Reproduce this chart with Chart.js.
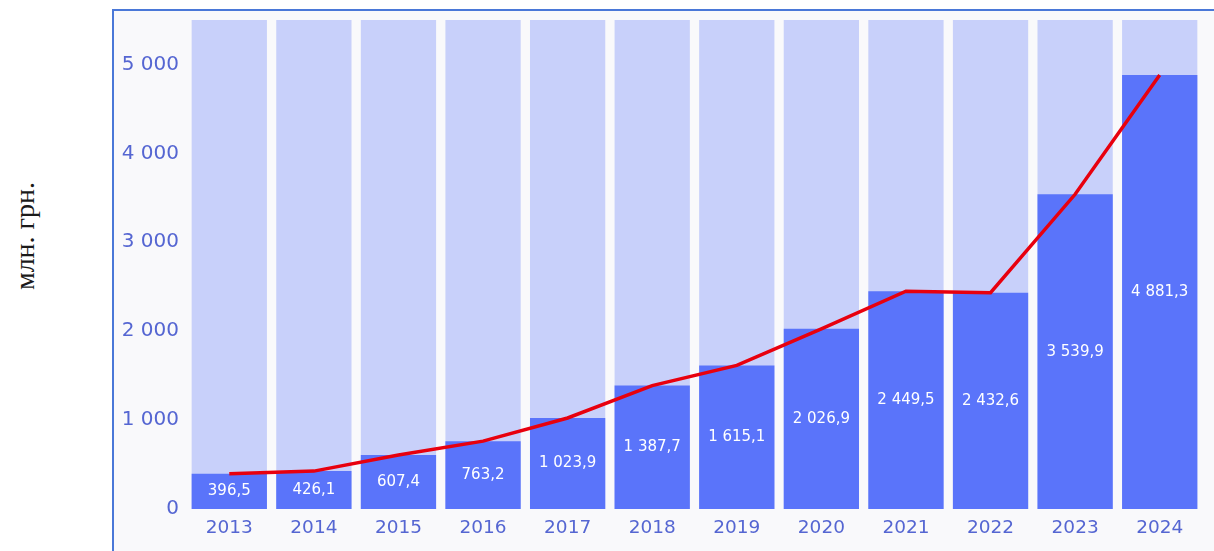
<!DOCTYPE html>
<html>
<head>
<meta charset="utf-8">
<script src="https://cdn.jsdelivr.net/npm/chart.js@4"></script>
<style>
  html, body { margin: 0; padding: 0; background: #fff; }
  #page { position: relative; width: 1214px; height: 551px; overflow: hidden; }
  #unit {
    position: absolute; left: 25px; top: 236px;
    transform: translate(-50%, -50%) rotate(-90deg);
    font: 28px "Liberation Serif", serif; color: #1a1a1a; white-space: nowrap;
  }
  #frame {
    position: absolute; left: 112px; top: 9px; width: 1200px; height: 600px;
    border-left: 2px solid #4a78d8; border-top: 2px solid #4a78d8;
    background: #f9f9fb;
  }
  #wrap { position: absolute; left: 0; top: 0; width: 1214px; height: 551px; }
</style>
</head>
<body>
<div id="page">
  <div id="unit">млн. грн.</div>
  <div id="frame"></div>
  <div id="wrap"><canvas id="chart"></canvas></div>
</div>
<script>
// Доходи по роках, млн. грн.
const years = ['2013', '2014', '2015', '2016', '2017', '2018', '2019', '2020', '2021', '2022', '2023', '2024'];
const values = [396.5, 426.1, 607.4, 763.2, 1023.9, 1387.7, 1615.1, 2026.9, 2449.5, 2432.6, 3539.9, 4881.3];
const yTicks = [0, 1000, 2000, 3000, 4000, 5000];
const scaleMax = 5500;
const backdrop = years.map(() => scaleMax);

// "1 023,9" style: space thousands, comma decimal
function fmt(v, decimals) {
  const s = v.toFixed(decimals);
  const [int, dec] = s.split('.');
  const grouped = int.replace(/\B(?=(\d{3})+(?!\d))/g, ' ');
  return dec ? grouped + ',' + dec : grouped;
}

// white value labels in the middle of each dark bar
const barLabels = {
  id: 'barLabels',
  afterDatasetsDraw(chart) {
    const meta = chart.getDatasetMeta(1);
    const ctx = chart.ctx;
    ctx.save();
    ctx.font = '15px "DejaVu Sans", Verdana, sans-serif';
    ctx.fillStyle = '#ffffff';
    ctx.textAlign = 'center';
    ctx.textBaseline = 'middle';
    meta.data.forEach((bar, i) => {
      const p = bar.getProps(['x', 'y', 'base'], true);
      ctx.fillText(fmt(values[i], 1), p.x, (p.y + p.base) / 2);
    });
    ctx.restore();
  }
};

const ctx = document.getElementById('chart').getContext('2d');
new Chart(ctx, {
  data: {
    labels: years,
    datasets: [
      {
        type: 'bar',
        data: backdrop,
        backgroundColor: '#c8d0fa',
        grouped: false,
        barPercentage: 0.89,
        categoryPercentage: 1,
        order: 3,
      },
      {
        type: 'bar',
        data: values,
        backgroundColor: '#5a74fa',
        grouped: false,
        barPercentage: 0.89,
        categoryPercentage: 1,
        order: 2,
      },
      {
        type: 'line',
        data: values,
        borderColor: '#e8000e',
        borderWidth: 3.5,
        pointRadius: 0,
        tension: 0,
        fill: false,
        order: 1,
      },
    ],
  },
  options: {
    responsive: true,
    maintainAspectRatio: false,
    animation: false,
    layout: { padding: { top: 20, right: 12, bottom: 0, left: 0 } },
    plugins: { legend: { display: false }, tooltip: { enabled: false } },
    scales: {
      x: {
        grid: { display: false, drawTicks: false },
        border: { display: false },
        ticks: { color: '#5566d2', font: { family: '"DejaVu Sans", Verdana, sans-serif', size: 18.5 }, padding: 8 },
        afterFit: scale => { scale.height = 42; },
      },
      y: {
        min: 0,
        max: scaleMax,
        grid: { display: false, drawTicks: false },
        border: { display: false },
        ticks: {
          color: '#5566d2',
          font: { family: '"DejaVu Sans", Verdana, sans-serif', size: 20 },
          padding: 8,
          callback: v => fmt(v, 0),
        },
        afterBuildTicks: scale => { scale.ticks = yTicks.map(v => ({ value: v })); },
        afterFit: scale => { scale.width = 187; },
      },
    },
  },
  plugins: [barLabels],
});
</script>
</body>
</html>
